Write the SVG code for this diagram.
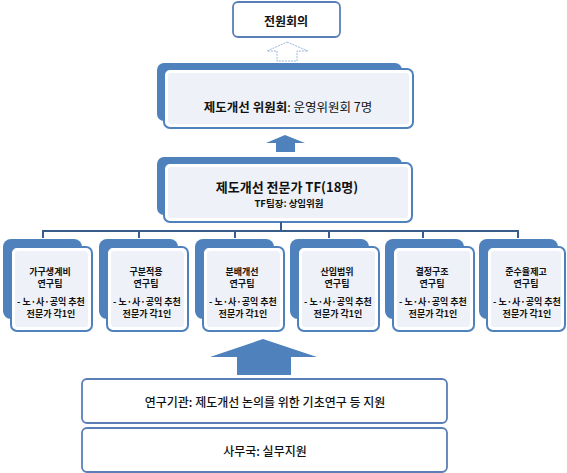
<svg xmlns="http://www.w3.org/2000/svg" width="567" height="473" viewBox="0 0 567 473">
<style>
text{font-family:"Noto Sans CJK KR","Noto Sans",sans-serif;fill:#111;text-anchor:middle}
.b{font-weight:bold}
.shadow{fill:#4f81bd}
.front{fill:#fff;stroke:#4f81bd;stroke-width:2}
.inner{fill:#eef1f8}
.plain{fill:#fff;stroke:#5a7fb8;stroke-width:1.8}
.conn{stroke:#385d8a;stroke-width:2;fill:none}
.sub{font-size:9px;font-weight:bold}
</style>
<rect width="567" height="473" fill="#fff"/>
<g id="plenary">
<rect class="plain" x="233" y="2" width="107" height="35" rx="5"/>
<text class="b" x="286" y="26" font-size="12">전원회의</text>
</g>
<g id="arrows">
<path d="M287 42 L308 51 L297 51 L297 61 L277 61 L277 51 L267 51 Z" fill="#fff" stroke="#9bb7d9" stroke-width="1" stroke-dasharray="2 1"/>
<path d="M285 135 L305 143 L295 143 L295 152 L276 152 L276 143 L266 143 Z" fill="#4f81bd"/>
<path d="M263 339 L317 357 L291 357 L291 375 L237 375 L237 357 L210 357 Z" fill="#4f81bd"/>
</g>
<g id="committee">
<rect class="shadow" x="157" y="63" width="245" height="58" rx="7"/>
<rect class="front" x="164" y="69" width="249" height="59" rx="6"/>
<rect class="inner" x="168" y="73" width="241" height="51" rx="3"/>
<text x="288" y="112" font-size="12.5"><tspan class="b">제도개선 위원회</tspan>: 운영위원회 7명</text>
</g>
<g id="tf">
<rect class="shadow" x="157" y="157" width="245" height="58" rx="7"/>
<rect class="front" x="164" y="163" width="248" height="59" rx="6"/>
<rect class="inner" x="168" y="167" width="240" height="51" rx="3"/>
<text class="b" x="287" y="192" font-size="13">제도개선 전문가 TF(18명)</text>
<text class="b" x="289" y="207" font-size="9.5">TF팀장: 상임위원</text>
</g>
<g id="connectors">
<path class="conn" d="M281 222 V231 M43 238 V231 H518 V238 M139 231 V238 M235 231 V238 M329 231 V238 M423 231 V238"/>
</g>
<g id="team1">
<rect class="shadow" x="3" y="239" width="79" height="80" rx="8"/>
<rect class="front" x="11" y="247" width="81" height="84" rx="6"/>
<rect class="inner" x="15" y="251" width="73" height="76" rx="3"/>
<text class="sub" x="50" y="275">가구생계비</text>
<text class="sub" x="50" y="287">연구팀</text>
<text class="sub" x="51" y="305">- 노·사·공익 추천</text>
<text class="sub" x="51" y="317">전문가 각1인</text>
</g>
<g id="team2">
<rect class="shadow" x="99" y="239" width="79" height="80" rx="8"/>
<rect class="front" x="107" y="247" width="81" height="84" rx="6"/>
<rect class="inner" x="111" y="251" width="73" height="76" rx="3"/>
<text class="sub" x="146" y="275">구분적용</text>
<text class="sub" x="146" y="287">연구팀</text>
<text class="sub" x="147" y="305">- 노·사·공익 추천</text>
<text class="sub" x="147" y="317">전문가 각1인</text>
</g>
<g id="team3">
<rect class="shadow" x="195" y="239" width="79" height="80" rx="8"/>
<rect class="front" x="203" y="247" width="81" height="84" rx="6"/>
<rect class="inner" x="207" y="251" width="73" height="76" rx="3"/>
<text class="sub" x="242" y="275">분배개선</text>
<text class="sub" x="242" y="287">연구팀</text>
<text class="sub" x="243" y="305">- 노·사·공익 추천</text>
<text class="sub" x="243" y="317">전문가 각1인</text>
</g>
<g id="team4">
<rect class="shadow" x="290" y="239" width="79" height="80" rx="8"/>
<rect class="front" x="298" y="247" width="81" height="84" rx="6"/>
<rect class="inner" x="302" y="251" width="73" height="76" rx="3"/>
<text class="sub" x="337" y="275">산입범위</text>
<text class="sub" x="337" y="287">연구팀</text>
<text class="sub" x="338" y="305">- 노·사·공익 추천</text>
<text class="sub" x="338" y="317">전문가 각1인</text>
</g>
<g id="team5">
<rect class="shadow" x="385" y="239" width="79" height="80" rx="8"/>
<rect class="front" x="393" y="247" width="81" height="84" rx="6"/>
<rect class="inner" x="397" y="251" width="73" height="76" rx="3"/>
<text class="sub" x="432" y="275">결정구조</text>
<text class="sub" x="432" y="287">연구팀</text>
<text class="sub" x="433" y="305">- 노·사·공익 추천</text>
<text class="sub" x="433" y="317">전문가 각1인</text>
</g>
<g id="team6">
<rect class="shadow" x="479" y="239" width="79" height="80" rx="8"/>
<rect class="front" x="487" y="247" width="78" height="84" rx="6"/>
<rect class="inner" x="491" y="251" width="70" height="76" rx="3"/>
<text class="sub" x="526" y="275">준수율제고</text>
<text class="sub" x="526" y="287">연구팀</text>
<text class="sub" x="527" y="305">- 노·사·공익 추천</text>
<text class="sub" x="527" y="317">전문가 각1인</text>
</g>
<g id="research">
<rect class="plain" x="82" y="379" width="365" height="44" rx="5"/>
<text x="265" y="407" font-size="12" font-weight="500">연구기관: 제도개선 논의를 위한 기초연구 등 지원</text>
</g>
<g id="secretariat">
<rect class="plain" x="82" y="428" width="365" height="44" rx="5"/>
<text x="265" y="456" font-size="12" font-weight="500">사무국: 실무지원</text>
</g>
</svg>
